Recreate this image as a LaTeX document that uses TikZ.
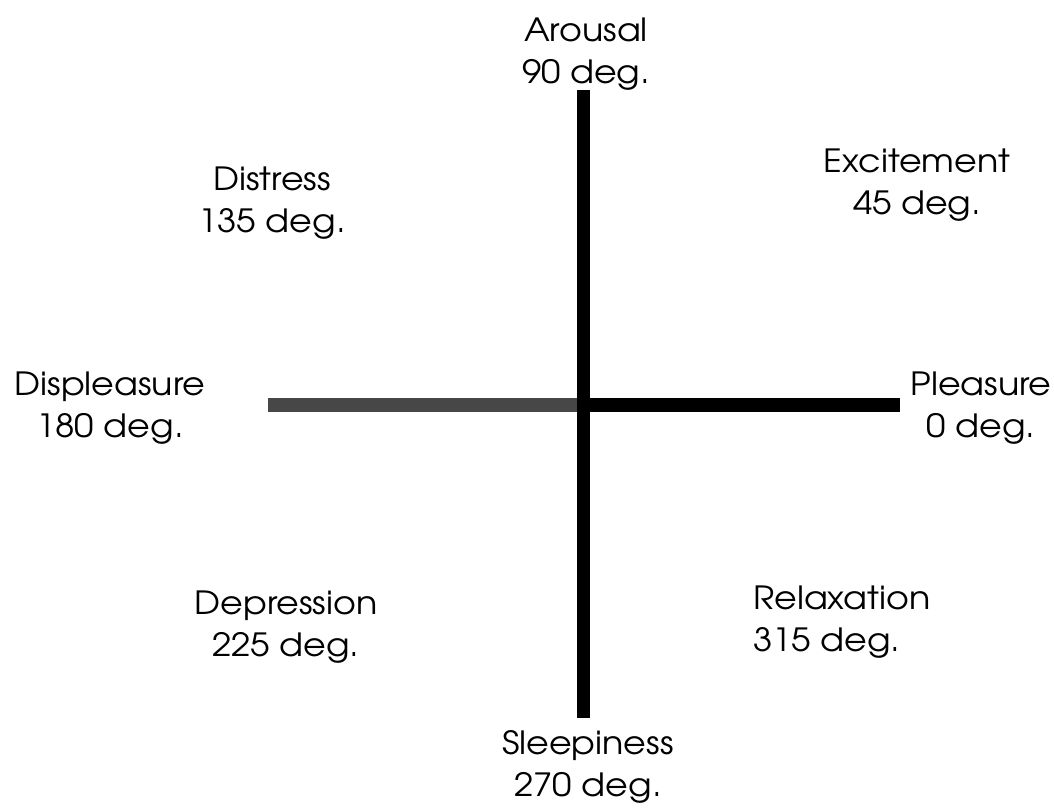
\documentclass[tikz,border=0pt]{standalone}
\usepackage{fontspec}
\setmainfont[FakeStretch=1.09]{TeX Gyre Adventor}
\begin{document}
\begin{tikzpicture}[x=0.75pt,y=-0.75pt,
  lbl/.style={font=\fontsize{24}{32}\selectfont, align=center, inner sep=0pt},
  axis/.style={line width=10pt, line cap=butt}]
\useasboundingbox (0,0) rectangle (1054,810);
\fill[white] (0,0) rectangle (1054,810);
\coordinate (o) at (583.5,405);
\coordinate (top) at (583.5,90);
\coordinate (bot) at (583.5,718);
\coordinate (lft) at (268,405);
\coordinate (rgt) at (900,405);
\draw[axis, black!72] (lft) -- (o);
\draw[axis, black] (o) -- (rgt);
\draw[axis, black] (top) -- (bot);
\node[lbl] (arousal) at (586,54) {Arousal\\90 deg.};
\node[lbl] (excite) at (917,185) {Excitement\\45 deg.};
\node[lbl] (distress) at (272,203) {Distress\\135 deg.};
\node[lbl] (displeas) at (110,408) {Displeasure\\180 deg.};
\node[lbl] (pleas) at (981,408) {Pleasure\\0 deg.};
\node[lbl] (depress) at (286,627) {Depression\\225 deg.};
\node[lbl, align=left, anchor=west] (relax) at (753,622) {Relaxation\\315 deg.};
\node[lbl] (sleep) at (588,767) {Sleepiness\\270 deg.};
\end{tikzpicture}
\end{document}
